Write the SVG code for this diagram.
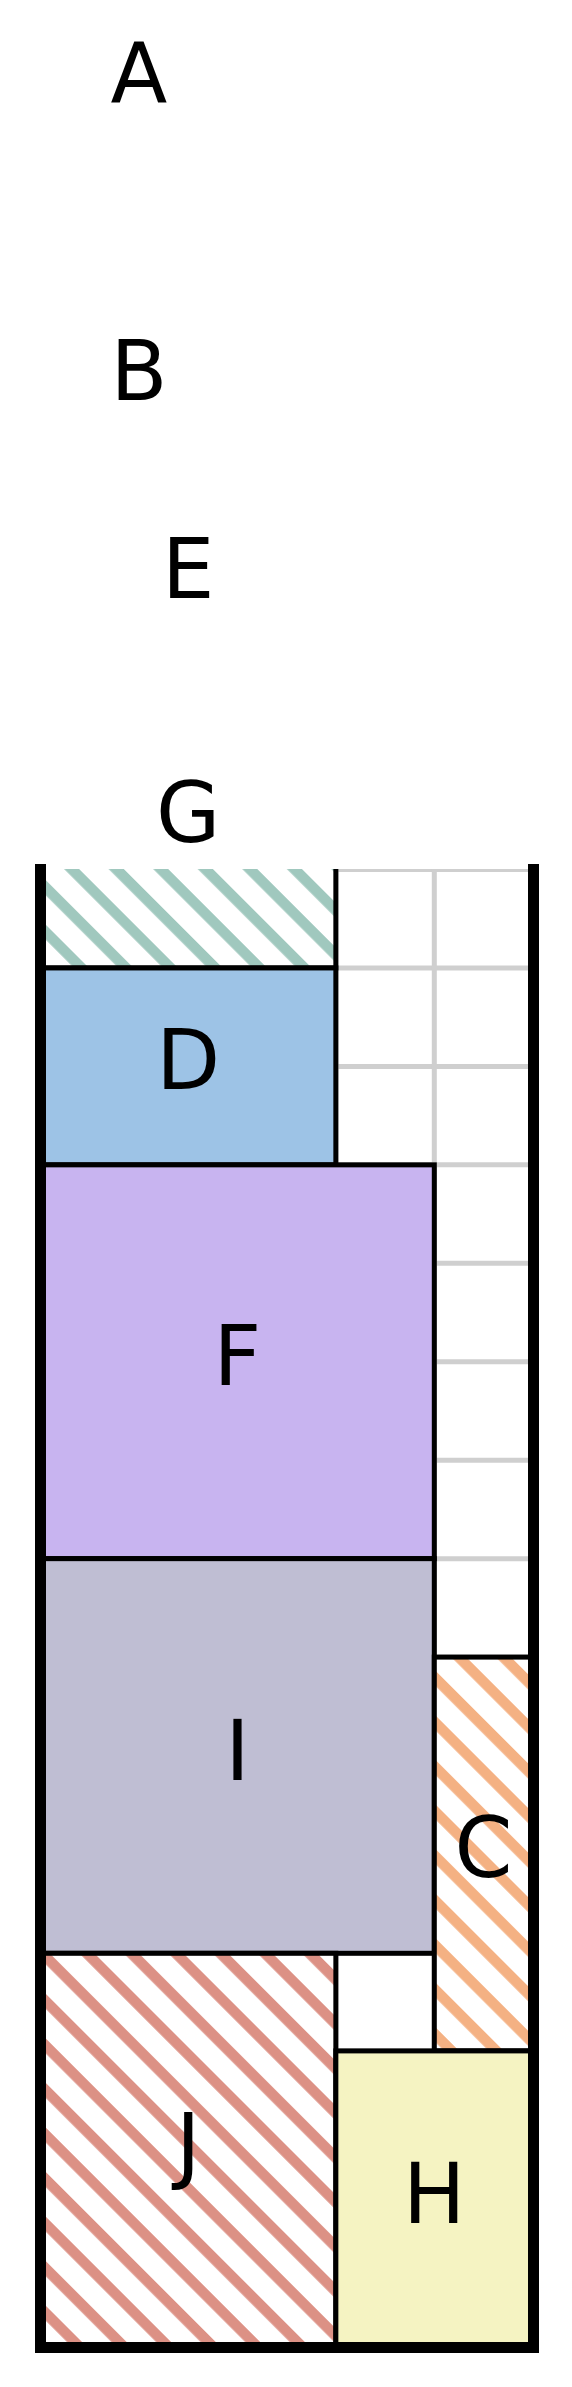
<svg xmlns="http://www.w3.org/2000/svg" width="572" height="2387" viewBox="0 0 572 2387">
<style>
.lbl{font-family:"DejaVu Sans","Liberation Sans",sans-serif;font-size:83px;fill:#000;text-anchor:middle}
.box{stroke:#000;stroke-width:5}
.grid{stroke:#cfcfcf;stroke-width:5;fill:none}
</style>
<defs>
<clipPath id="inner"><rect x="0" y="869" width="572" height="1518"/></clipPath>
<pattern id="hG" patternUnits="userSpaceOnUse" y="-8.49" width="31.5" height="31.5" patternTransform="rotate(45)">
<rect x="0" y="0" width="31.5" height="31.5" fill="#fff"/><rect x="0" y="0" width="31.5" height="10.6" fill="#a0c8be"/>
</pattern>
<pattern id="hC" patternUnits="userSpaceOnUse" y="-8.49" width="31.5" height="31.5" patternTransform="rotate(45)">
<rect x="0" y="0" width="31.5" height="31.5" fill="#fff"/><rect x="0" y="0" width="31.5" height="10.6" fill="#f4b183"/>
</pattern>
<pattern id="hJ" patternUnits="userSpaceOnUse" y="-8.49" width="31.5" height="31.5" patternTransform="rotate(45)">
<rect x="0" y="0" width="31.5" height="31.5" fill="#fff"/><rect x="0" y="0" width="31.5" height="10.6" fill="#dc9185"/>
</pattern>
</defs>
<rect width="572" height="2387" fill="#fff"/>
<g id="grid" class="grid" clip-path="url(#inner)">
<path d="M40.5 869.5H532.75M40.5 967.95H532.75M40.5 1066.4H532.75M40.5 1164.85H532.75M40.5 1263.3H532.75M40.5 1361.75H532.75M40.5 1460.2H532.75M40.5 1558.65H532.75M40.5 1657.1H532.75M40.5 1755.55H532.75M40.5 1854H532.75M40.5 1952.45H532.75M40.5 2050.9H532.75M40.5 2149.35H532.75M40.5 2247.8H532.75"/>
<path d="M139 869.5V2346M237.4 869.5V2346M335.85 869.5V2346M434.3 869.5V2346"/>
</g>
<g id="node-A"><text class="lbl" x="139" y="103.3">A</text></g>
<g id="node-B"><text class="lbl" x="139" y="400">B</text></g>
<g id="node-E"><text class="lbl" x="188.2" y="598">E</text></g>
<g id="node-G">
<rect class="box" x="40.5" y="669" width="295.35" height="298.95" fill="url(#hG)" clip-path="url(#inner)"/>
<text class="lbl" x="188.2" y="842">G</text>
</g>
<g id="node-D">
<rect class="box" x="40.5" y="967.95" width="295.35" height="196.9" fill="#9dc3e6"/>
<text class="lbl" x="188.2" y="1089">D</text>
</g>
<g id="node-F">
<rect class="box" x="40.5" y="1164.85" width="393.8" height="393.8" fill="#c8b4f0"/>
<text class="lbl" x="237.4" y="1385">F</text>
</g>
<g id="node-I">
<rect class="box" x="40.5" y="1558.65" width="393.8" height="394.65" fill="#bfbed3"/>
<text class="lbl" x="237.4" y="1780">I</text>
</g>
<g id="node-C">
<rect class="box" x="434.3" y="1657.1" width="98.45" height="393.8" fill="url(#hC)"/>
<text class="lbl" x="483.5" y="1877">C</text>
</g>
<g id="node-J">
<rect class="box" x="40.5" y="1953.3" width="295.35" height="392.95" fill="url(#hJ)"/>
<text class="lbl" x="188.2" y="2173">J</text>
</g>
<g id="node-H">
<rect class="box" x="335.85" y="2050.9" width="196.9" height="295.35" fill="#f5f3c2"/>
<text class="lbl" x="434.3" y="2223">H</text>
</g>
<g id="connectors"></g>
<g id="container">
<path d="M40.5 864V2347.5H533.5V864" fill="none" stroke="#000" stroke-width="11" stroke-linejoin="miter"/>
</g>
</svg>
